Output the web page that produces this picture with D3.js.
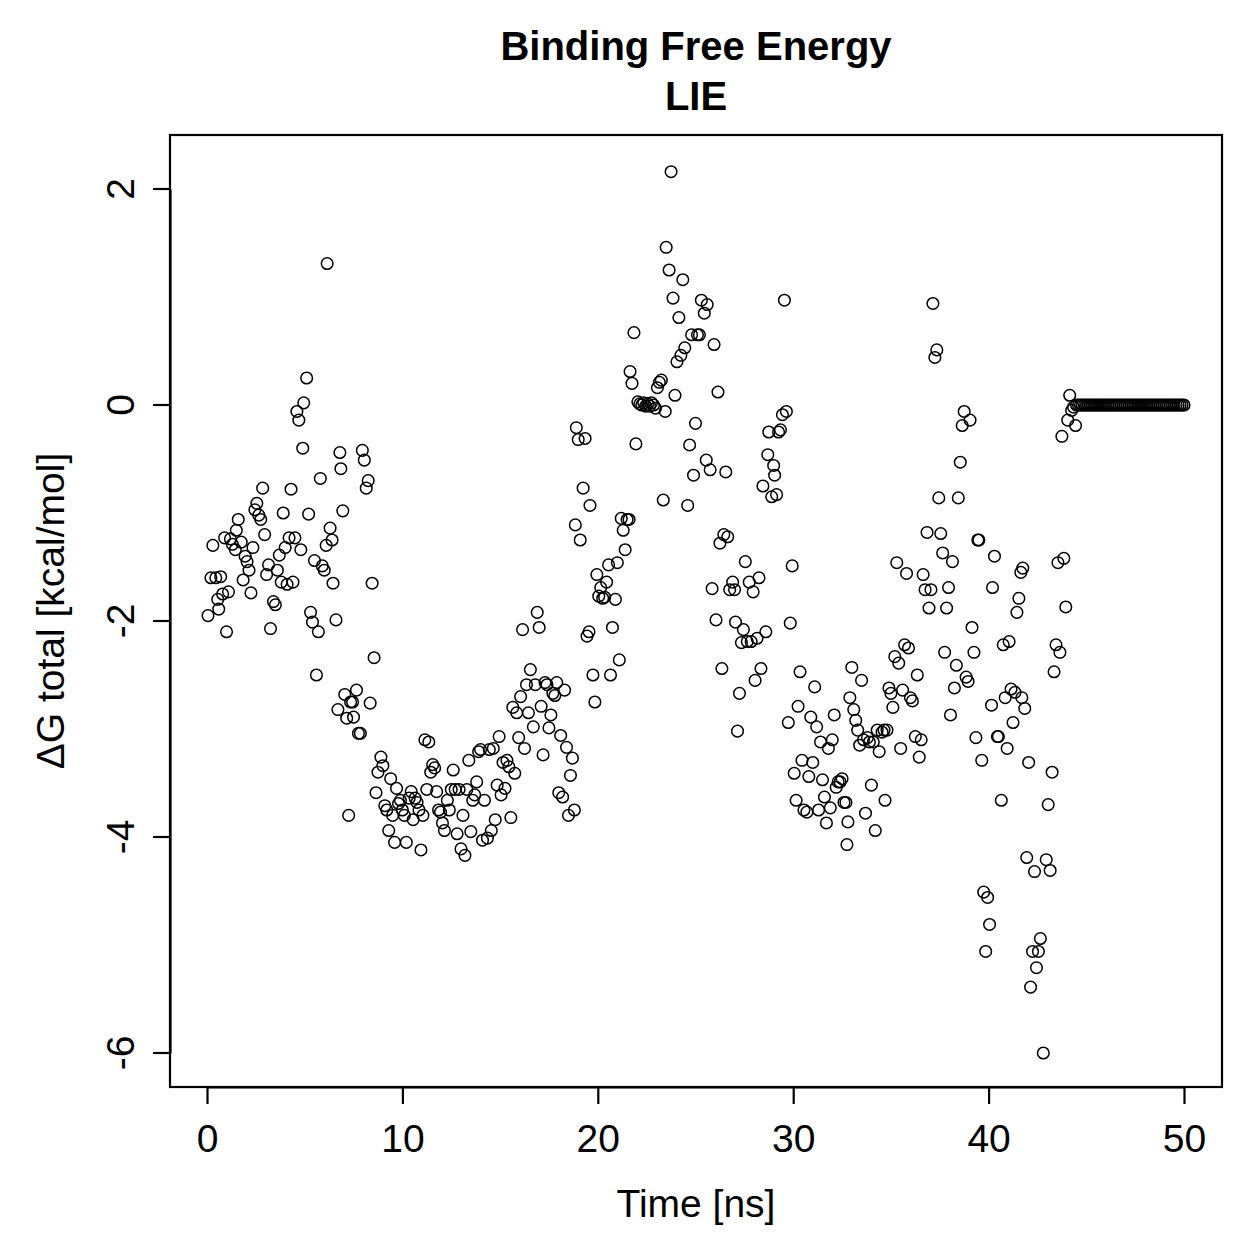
<!DOCTYPE html>
<html>
<head>
<meta charset="utf-8">
<script src="https://cdn.jsdelivr.net/npm/d3@7"></script>
<style>
  body { margin: 0; background: #fff; }
  text { font-family: "Liberation Sans", Arial, Helvetica, sans-serif; }
</style>
</head>
<body>
<div class="container"></div>
<script>
const titleLines = ['Binding Free Energy', 'LIE'];
const xLabel = 'Time [ns]';
const yLabel = 'ΔG total [kcal/mol]';
const xTicks = [0, 10, 20, 30, 40, 50];
const yTicks = [2, 0, -2, -4, -6];

// time [ns] and dG [kcal/mol]
const time = [
  0.05, 0.2, 0.3, 0.45, 0.55, 0.6, 0.7, 0.8, 0.9, 1.0, 1.1, 1.2, 1.3, 1.45, 1.5, 1.6, 1.75, 1.85, 1.95, 2.05,
  2.15, 2.25, 2.35, 2.45, 2.55, 2.65, 2.75, 2.85, 2.95, 3.05, 3.15, 3.25, 3.4, 3.5, 3.6, 3.7, 3.8, 3.9, 4.0, 4.1,
  4.2, 4.3, 4.4, 4.5, 4.6, 4.7, 4.8, 4.9, 4.95, 5.1, 5.2, 5.3, 5.4, 5.5, 5.6, 5.7, 5.8, 5.9, 6.0, 6.1,
  6.15, 6.3, 6.4, 6.45, 6.6, 6.7, 6.8, 6.85, 6.95, 7.05, 7.15, 7.25, 7.35, 7.45, 7.5, 7.65, 7.75, 7.85, 7.95, 8.05,
  8.15, 8.25, 8.35, 8.45, 8.55, 8.65, 8.75, 8.9, 9.0, 9.1, 9.2, 9.3, 9.4, 9.5, 9.6, 9.7, 9.8, 9.9, 10.0, 10.1,
  10.2, 10.35, 10.45, 10.55, 10.65, 10.75, 10.85, 10.95, 11.05, 11.15, 11.25, 11.35, 11.45, 11.55, 11.65, 11.75, 11.85, 11.95, 12.05, 12.15,
  12.3, 12.4, 12.5, 12.6, 12.7, 12.8, 12.9, 13.0, 13.1, 13.2, 13.3, 13.4, 13.5, 13.6, 13.7, 13.8, 13.9, 14.0, 14.1, 14.2,
  14.35, 14.45, 14.55, 14.65, 14.75, 14.85, 14.95, 15.05, 15.15, 15.25, 15.35, 15.45, 15.55, 15.65, 15.75, 15.85, 15.95, 16.05, 16.15, 16.25,
  16.35, 16.45, 16.55, 16.7, 16.8, 16.9, 17.0, 17.1, 17.2, 17.3, 17.4, 17.5, 17.6, 17.7, 17.8, 17.9, 18.0, 18.1, 18.2, 18.3,
  18.4, 18.5, 18.6, 18.7, 18.8, 18.85, 18.9, 19.0, 19.1, 19.25, 19.35, 19.45, 19.55, 19.6, 19.75, 19.85, 19.95, 20.05, 20.15, 20.25,
  20.35, 20.45, 20.55, 20.65, 20.75, 20.9, 21.0, 21.1, 21.2, 21.3, 21.4, 21.5, 21.6, 21.65, 21.75, 21.85, 21.95, 22.05, 22.15, 22.25,
  22.35, 22.45, 22.55, 22.65, 22.75, 22.85, 22.95, 23.05, 23.15, 23.25, 23.35, 23.45, 23.5, 23.65, 23.75, 23.85, 23.95, 24.05, 24.15, 24.25,
  24.35, 24.45, 24.6, 24.7, 24.8, 24.9, 25.0, 25.1, 25.2, 25.3, 25.45, 25.55, 25.6, 25.75, 25.85, 25.95, 26.05, 26.15, 26.25, 26.35,
  26.45, 26.55, 26.65, 26.75, 26.9, 27.0, 27.05, 27.15, 27.25, 27.35, 27.45, 27.55, 27.65, 27.75, 27.85, 27.95, 28.05, 28.15, 28.25, 28.35,
  28.45, 28.6, 28.7, 28.75, 28.9, 29.0, 29.05, 29.15, 29.25, 29.35, 29.45, 29.55, 29.65, 29.75, 29.85, 29.95, 30.05, 30.15, 30.25, 30.35,
  30.45, 30.55, 30.7, 30.8, 30.9, 31.0, 31.1, 31.2, 31.3, 31.4, 31.5, 31.6, 31.7, 31.8, 31.9, 32.0, 32.1, 32.2, 32.3, 32.4,
  32.5, 32.6, 32.7, 32.75, 32.8, 32.9, 33.0, 33.1, 33.2, 33.3, 33.4, 33.5, 33.6, 33.7, 33.8, 33.9, 34.0, 34.1, 34.2, 34.3,
  34.4, 34.55, 34.65, 34.7, 34.8, 34.9, 35.0, 35.1, 35.2, 35.3, 35.4, 35.5, 35.6, 35.7, 35.8, 35.9, 36.0, 36.1, 36.25, 36.35,
  36.45, 36.55, 36.65, 36.75, 36.85, 36.95, 37.05, 37.15, 37.25, 37.35, 37.45, 37.55, 37.65, 37.75, 37.85, 37.95, 38.05, 38.15, 38.25, 38.35,
  38.45, 38.55, 38.65, 38.75, 38.85, 38.95, 39.05, 39.15, 39.25, 39.35, 39.45, 39.5, 39.65, 39.75, 39.85, 39.95, 40.05, 40.15, 40.2, 40.3,
  40.45, 40.5, 40.65, 40.75, 40.85, 40.95, 41.05, 41.15, 41.25, 41.35, 41.45, 41.55, 41.65, 41.7, 41.75, 41.85, 41.95, 42.05, 42.15, 42.25,
  42.35, 42.45, 42.55, 42.65, 42.8, 42.95, 43.05, 43.15, 43.25, 43.35, 43.45, 43.55, 43.65, 43.75, 43.85, 43.95, 44.05, 44.15, 44.25, 44.35,
  44.45, 44.5, 44.6, 44.7, 44.8, 44.9, 45.0, 45.1, 45.2, 45.3, 45.4, 45.5, 45.6, 45.7, 45.8, 45.9, 46.0, 46.1, 46.2, 46.3,
  46.4, 46.5, 46.6, 46.7, 46.8, 46.9, 47.0, 47.1, 47.2, 47.3, 47.4, 47.5, 47.6, 47.7, 47.8, 47.9, 48.0, 48.1, 48.2, 48.3,
  48.4, 48.5, 48.6, 48.7, 48.8, 48.9, 49.0, 49.1, 49.2, 49.3, 49.4, 49.5, 49.6, 49.7, 49.8, 49.9, 50.0
];
const dG = [
  -1.95, -1.6, -1.3, -1.6, -1.8, -1.89, -1.59, -1.75, -1.23, -2.1, -1.73, -1.24, -1.29, -1.34, -1.16, -1.06, -1.27, -1.62, -1.4, -1.45,
  -1.53, -1.74, -1.32, -0.97, -0.91, -1.02, -1.06, -0.77, -1.2, -1.57, -1.48, -2.07, -1.82, -1.85, -1.53, -1.39, -1.64, -1.0, -1.32, -1.66,
  -1.23, -0.78, -1.64, -1.23, -0.06, -0.14, -1.34, -0.4, 0.02, 0.25, -1.01, -1.92, -2.01, -1.44, -2.5, -2.1, -0.68, -1.49, -1.53, -1.3,
  1.31, -1.14, -1.25, -1.65, -1.99, -2.82, -0.44, -0.59, -0.98, -2.68, -2.9, -3.8, -2.75, -2.75, -2.89, -2.64, -3.04, -3.04, -0.42, -0.51,
  -0.77, -0.7, -2.76, -1.65, -2.34, -3.59, -3.4, -3.26, -3.34, -3.71, -3.75, -3.94, -3.46, -3.8, -4.05, -3.55, -3.69, -3.66, -3.75, -3.8,
  -4.05, -3.64, -3.58, -3.84, -3.64, -3.68, -3.75, -4.12, -3.8, -3.1, -3.56, -3.12, -3.4, -3.33, -3.36, -3.58, -3.75, -3.77, -3.87, -3.94,
  -3.66, -3.75, -3.56, -3.38, -3.56, -3.97, -3.56, -4.11, -3.8, -4.17, -3.56, -3.29, -3.95, -3.66, -3.61, -3.49, -3.21, -3.19, -4.03, -3.66,
  -4.01, -3.19, -3.94, -3.18, -3.84, -3.52, -3.07, -3.61, -3.31, -3.55, -3.29, -3.35, -3.82, -2.8, -3.41, -2.85, -3.08, -2.7, -2.08, -3.18,
  -2.59, -2.85, -2.45, -2.98, -2.59, -1.92, -2.06, -2.79, -3.24, -2.57, -2.59, -2.99, -2.87, -2.67, -2.69, -2.57, -3.59, -3.06, -3.63, -2.64,
  -3.17, -3.8, -3.43, -3.27, -3.75, -1.11, -0.21, -0.32, -1.25, -0.77, -0.31, -2.14, -2.1, -0.93, -2.5, -2.75, -1.57, -1.77, -1.69, -1.79,
  -1.78, -1.64, -1.48, -2.5, -2.06, -1.8, -1.46, -2.36, -1.05, -1.16, -1.34, -1.06, -1.06, 0.31, 0.2, 0.67, -0.36, 0.03, 0.01, 0.0,
  0.02, -0.01, 0.01, -0.01, 0.02, 0.0, -0.03, 0.16, 0.21, 0.23, -0.88, -0.06, 1.46, 1.25, 2.16, 0.99, 0.09, 0.4, 0.81, 0.46,
  1.16, 0.53, -0.93, -0.37, 0.65, -0.65, -0.17, 0.65, 0.65, 0.97, 0.85, -0.51, 0.93, -0.6, -1.7, 0.56, -1.99, 0.12, -1.28, -2.44,
  -1.2, -0.62, -1.22, -1.71, -1.64, -1.71, -2.01, -3.02, -2.67, -2.2, -2.08, -1.45, -2.19, -1.64, -2.19, -1.73, -2.55, -2.16, -1.6, -2.44,
  -0.75, -2.1, -0.46, -0.25, -0.85, -0.56, -0.65, -0.83, -0.25, -0.23, -0.09, 0.97, -0.06, -2.94, -2.02, -1.49, -3.41, -3.66, -2.79, -2.47,
  -3.29, -3.75, -3.77, -3.44, -2.89, -3.31, -2.61, -2.98, -3.75, -3.12, -3.47, -3.63, -3.87, -3.18, -3.73, -3.1, -2.87, -3.54, -3.49, -3.49,
  -3.46, -3.68, -3.68, -4.07, -3.86, -2.71, -2.43, -2.82, -2.92, -3.01, -3.15, -2.55, -3.1, -3.78, -3.08, -3.12, -3.52, -3.12, -3.94, -3.01,
  -3.21, -3.03, -3.01, -3.66, -3.01, -2.62, -2.67, -2.8, -2.33, -1.46, -2.39, -3.18, -2.64, -2.22, -1.56, -2.25, -2.71, -2.74, -3.07, -2.5,
  -3.26, -3.1, -1.57, -1.71, -1.18, -1.88, -1.71, 0.94, 0.44, 0.51, -0.86, -1.19, -1.37, -2.29, -1.88, -1.69, -2.87, -1.45, -2.62, -2.41,
  -0.86, -0.53, -0.19, -0.06, -2.52, -2.56, -0.14, -2.06, -2.29, -3.08, -1.25, -1.25, -3.29, -4.51, -5.06, -4.56, -4.81, -2.78, -1.69, -1.4,
  -3.07, -3.07, -3.66, -2.22, -2.71, -3.18, -2.19, -2.63, -2.94, -2.66, -1.92, -1.79, -1.55, -2.71, -1.51, -2.81, -4.19, -3.31, -5.39, -5.06,
  -4.32, -5.21, -5.06, -4.94, -6.0, -4.21, -3.7, -4.31, -3.4, -2.47, -2.22, -1.46, -2.29, -0.29, -1.42, -1.87, -0.14, 0.09, -0.05, -0.02,
  -0.19, 0, 0, 0, 0, 0, 0, 0, 0, 0, 0, 0, 0, 0, 0, 0, 0, 0, 0, 0,
  0, 0, 0, 0, 0, 0, 0, 0, 0, 0, 0, 0, 0, 0, 0, 0, 0, 0, 0, 0,
  0, 0, 0, 0, 0, 0, 0, 0, 0, 0, 0, 0, 0, 0, 0, 0, 0
];

const width = 1259;
const height = 1259;
const box = { left: 170, right: 1222, top: 135, bottom: 1087 };
const font = '"Liberation Sans", Arial, sans-serif';

const svg = d3.select('.container')
    .append('svg')
    .attr('width', width)
    .attr('height', height);

const xScale = d3.scaleLinear()
    .domain([0, 50])
    .range([207, 1184]);

const yScale = d3.scaleLinear()
    .domain([-6, 2])
    .range([1053, 189]);

// plot frame
svg.append('rect')
    .attr('x', box.left)
    .attr('y', box.top)
    .attr('width', box.right - box.left)
    .attr('height', box.bottom - box.top)
    .attr('fill', 'none')
    .attr('stroke', 'black')
    .attr('stroke-width', 2.2);

// x axis
const xAxis = d3.axisBottom(xScale)
    .tickValues(xTicks)
    .tickFormat(d => String(d))
    .tickSize(17)
    .tickPadding(20)
    .tickSizeOuter(0);

const gX = svg.append('g')
    .attr('transform', `translate(0, ${box.bottom})`)
    .call(xAxis);
gX.select('.domain').attr('stroke-width', 2.2);
gX.selectAll('line').attr('stroke-width', 2.2);
gX.selectAll('text')
    .attr('font-size', 39)
    .attr('fill', 'black')
    .style('font-family', font);

// y axis
const yAxis = d3.axisLeft(yScale)
    .tickValues(yTicks)
    .tickFormat(d => String(d))
    .tickSize(17)
    .tickSizeOuter(0);

const gY = svg.append('g')
    .attr('transform', `translate(${box.left}, 0)`)
    .call(yAxis);
gY.select('.domain').attr('stroke-width', 2.2);
gY.selectAll('line').attr('stroke-width', 2.2);
gY.selectAll('.tick').attr('transform', null);
gY.selectAll('.tick line')
    .attr('y1', d => yScale(d))
    .attr('y2', d => yScale(d));
gY.selectAll('text')
    .attr('font-size', 39)
    .attr('fill', 'black')
    .attr('x', null)
    .attr('dy', null)
    .attr('y', 0)
    .attr('text-anchor', 'middle')
    .attr('transform', d => `translate(-36, ${yScale(d)}) rotate(-90)`)
    .style('font-family', font);

// points
svg.append('g')
    .selectAll('circle')
    .data(d3.range(time.length))
    .join('circle')
    .attr('cx', i => xScale(time[i]))
    .attr('cy', i => yScale(dG[i]))
    .attr('r', 5.8)
    .attr('fill', 'none')
    .attr('stroke', 'black')
    .attr('stroke-width', 1.5);

// titles
svg.selectAll('.title')
    .data(titleLines)
    .join('text')
    .attr('class', 'title')
    .attr('x', (box.left + box.right) / 2)
    .attr('y', (d, i) => 60 + i * 50)
    .attr('text-anchor', 'middle')
    .attr('font-size', 40)
    .attr('font-weight', 'bold')
    .text(d => d);

svg.append('text')
    .attr('x', (box.left + box.right) / 2)
    .attr('y', 1217)
    .attr('text-anchor', 'middle')
    .attr('font-size', 39)
    .text(xLabel);

svg.append('text')
    .attr('transform', `translate(64, ${(box.top + box.bottom) / 2}) rotate(-90)`)
    .attr('text-anchor', 'middle')
    .attr('font-size', 39)
    .text(yLabel);
</script>
</body>
</html>
